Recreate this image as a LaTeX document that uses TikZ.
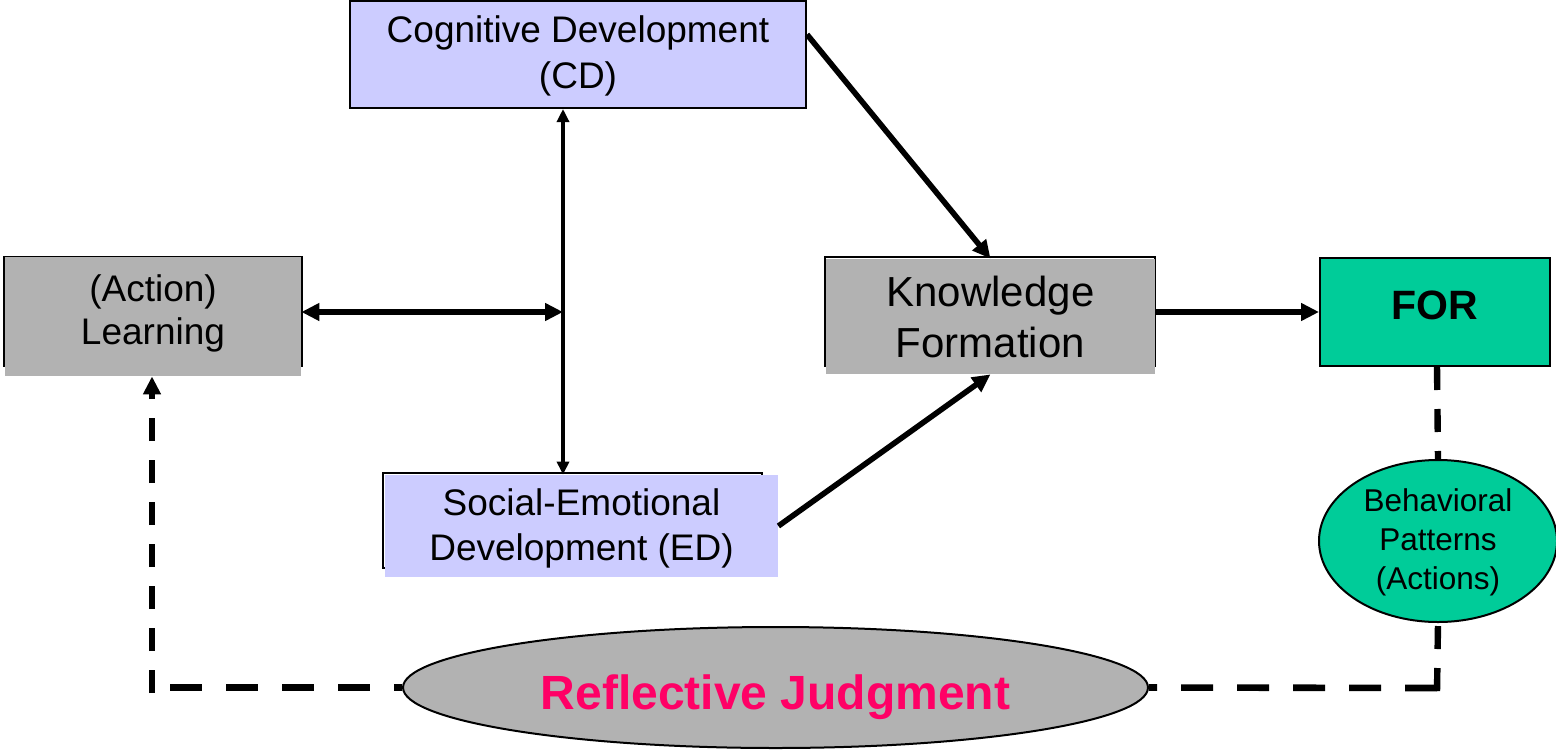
\documentclass[tikz,border=0pt]{standalone}
\usepackage{fontspec}
\setmainfont{Liberation Sans}
\usetikzlibrary{arrows.meta,shapes.geometric}
\definecolor{lavbox}{HTML}{CCCCFF}
\definecolor{greybox}{HTML}{B2B2B2}
\definecolor{greenbox}{HTML}{00CC99}
\definecolor{rjpink}{HTML}{FF0066}
\begin{document}
\begin{tikzpicture}[x=0.5pt,y=-0.5pt,
  boxnode/.style={rectangle, inner sep=0pt},
  framed/.style={boxnode, draw=black, line width=1pt},
  shadowfill/.style={boxnode, fill=greybox},
  outline/.style={draw=black, line width=0.8pt},
  txt/.style={inner sep=0pt, align=center},
  bigtip/.style={-{Triangle[length=9pt,width=8.5pt]}},
  conn/.style={line width=2.8pt, bigtip},
  thinconn/.style={line width=1.6pt, {Triangle[length=6.5pt,width=6pt]}-{Triangle[length=6.5pt,width=6pt]}},
  dashh/.style={line width=3.3pt, dash pattern=on 16pt off 12pt},
  dashv/.style={line width=3.2pt, dash pattern=on 11.5pt off 9.5pt}
]
\useasboundingbox (0,0) rectangle (1556,749);

% Cognitive Development
\node[framed, fill=lavbox, minimum width=228pt, minimum height=53.5pt,
  label={[txt, yshift=-0.5pt, font=\fontsize{18.5pt}{23pt}\selectfont]center:Cognitive Development\\(CD)}]
  (CD) at (578,54.5) {};

% (Action) Learning
\draw[outline] (4,257) rectangle (302,366);
\node[shadowfill, minimum width=148pt, minimum height=59.5pt,
  label={[txt, yshift=1.7pt, font=\fontsize{18.5pt}{21.5pt}\selectfont]center:(Action)\\Learning}]
  (AL) at (153,316.5) {};

% Knowledge Formation
\draw[outline] (825,257) rectangle (1155,366);
\node[shadowfill, minimum width=164.5pt, minimum height=57.5pt,
  label={[txt, font=\fontsize{21pt}{25.5pt}\selectfont]center:Knowledge\\Formation}]
  (KF) at (990.5,316.5) {};

% Social-Emotional Development
\draw[outline] (383,473) rectangle (762,568);
\node[boxnode, fill=lavbox, minimum width=196.5pt, minimum height=51pt,
  label={[txt, yshift=-1.2pt, font=\fontsize{18.5pt}{22.5pt}\selectfont]center:Social-Emotional\\Development (ED)}]
  (SE) at (581.5,526) {};

% FOR
\node[framed, fill=greenbox, minimum width=115pt, minimum height=54pt,
  label={[txt, yshift=3.5pt, font=\fontsize{20.5pt}{24pt}\selectfont\bfseries]center:FOR}]
  (FOR) at (1435,312) {};

% Behavioral Patterns
\node[ellipse, draw=black, line width=1pt, fill=greenbox, inner sep=0pt,
  minimum width=119pt, minimum height=81pt,
  label={[txt, yshift=-0.7pt, font=\fontsize{15.75pt}{19.5pt}\selectfont]center:Behavioral\\Patterns\\(Actions)}]
  (BP) at (1438,541) {};

% Reflective Judgment
\node[ellipse, draw=black, line width=1pt, fill=greybox, inner sep=0pt,
  minimum width=372.5pt, minimum height=60.5pt,
  label={[txt, yshift=-4.75pt, text=rjpink, font=\fontsize{24pt}{28pt}\selectfont\bfseries]center:Reflective Judgment}]
  (RJ) at (775.5,687.5) {};

% connectors
\coordinate (J) at (563,312);
\draw[line width=2.8pt, {Triangle[length=9pt,width=8.5pt]}-{Triangle[length=9pt,width=8.5pt]}]
  (AL.east |- J) -- (J);
\draw[thinconn] (J |- CD.south) -- (J |- SE.north);
\draw[conn] (CD.5) -- (KF.north);
\draw[conn] (SE.east) -- (KF.south);
\draw[conn] (KF.east |- FOR.west) -- (FOR.west);

% dashed feedback
\coordinate (LC) at (152,688);
\coordinate (RC) at (1437,688);
\draw[dashh] (RJ.west) ++(-232,0) coordinate (LH) -- (RJ.west);
\draw[dashv, -{Triangle[length=9pt,width=8.5pt]}] ([yshift=-2.5pt]LC) -- (LC |- AL.south);
\draw[dashh] (RC) -- (RJ.east);
\draw[dashv] ([yshift=-1.5pt]RC) -- (BP.south);
\draw[dashv] (RC |- FOR.south) -- (BP.north);
\end{tikzpicture}
\end{document}
